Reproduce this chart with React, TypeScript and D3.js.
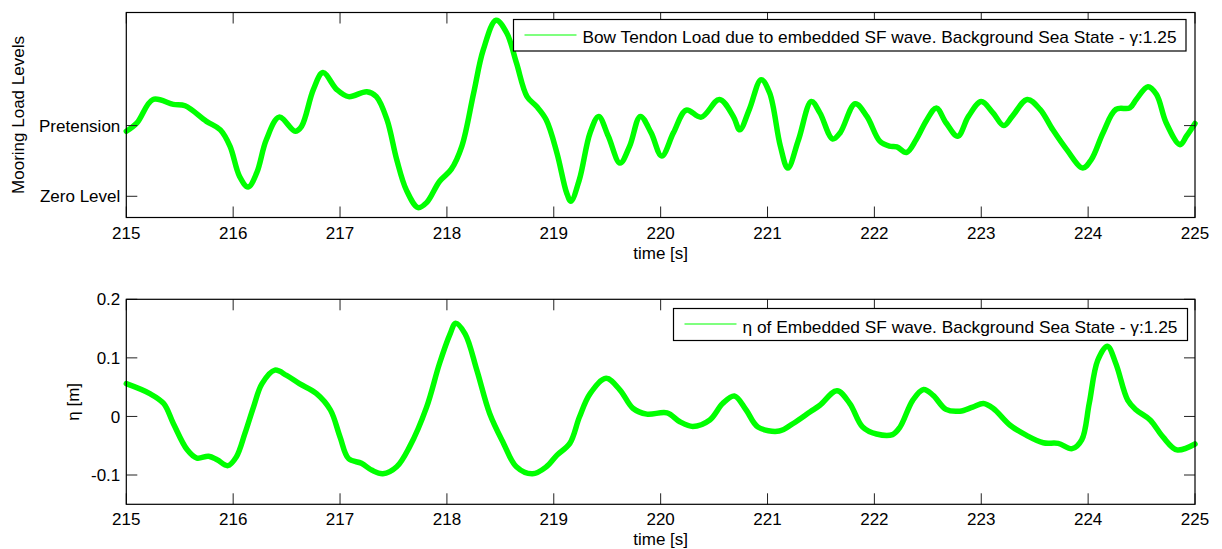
import React from 'react';
import * as d3 from 'd3';

const topTime = [215.0, 215.1, 215.25, 215.44, 215.55, 215.75, 215.88, 215.97, 216.06, 216.14, 216.22, 216.31, 216.43, 216.58, 216.64, 216.75, 216.84, 216.97, 217.08, 217.25, 217.34, 217.44, 217.53, 217.62, 217.73, 217.81, 217.93, 218.04, 218.14, 218.25, 218.34, 218.46, 218.56, 218.65, 218.75, 218.84, 218.93, 219.03, 219.12, 219.16, 219.24, 219.34, 219.42, 219.51, 219.62, 219.71, 219.81, 219.91, 220.01, 220.12, 220.24, 220.38, 220.55, 220.68, 220.74, 220.83, 220.94, 221.02, 221.12, 221.19, 221.29, 221.41, 221.49, 221.61, 221.68, 221.82, 221.93, 222.05, 222.14, 222.21, 222.3, 222.39, 222.49, 222.58, 222.67, 222.78, 222.88, 223.0, 223.11, 223.21, 223.29, 223.43, 223.55, 223.67, 223.8, 223.95, 224.03, 224.14, 224.26, 224.39, 224.45, 224.56, 224.64, 224.73, 224.86, 224.92, 225.0];
const topLoad = [0.92, 1.04, 1.37, 1.3, 1.28, 1.06, 0.94, 0.71, 0.28, 0.13, 0.33, 0.8, 1.12, 0.92, 0.99, 1.51, 1.75, 1.51, 1.41, 1.48, 1.41, 1.08, 0.52, 0.09, -0.16, -0.09, 0.21, 0.38, 0.71, 1.46, 2.07, 2.49, 2.31, 1.89, 1.41, 1.27, 1.08, 0.61, 0.05, -0.07, 0.24, 0.9, 1.13, 0.85, 0.47, 0.71, 1.13, 0.9, 0.57, 0.9, 1.22, 1.12, 1.37, 1.13, 0.94, 1.23, 1.65, 1.46, 0.71, 0.4, 0.8, 1.34, 1.18, 0.81, 0.9, 1.31, 1.13, 0.78, 0.71, 0.7, 0.62, 0.8, 1.08, 1.25, 1.04, 0.85, 1.13, 1.34, 1.18, 1.0, 1.13, 1.37, 1.23, 0.94, 0.66, 0.4, 0.52, 0.9, 1.23, 1.25, 1.37, 1.55, 1.44, 1.04, 0.73, 0.85, 1.03];

const botTime = [215.0, 215.22, 215.35, 215.44, 215.57, 215.66, 215.77, 215.85, 215.95, 216.03, 216.11, 216.19, 216.27, 216.39, 216.5, 216.62, 216.78, 216.91, 217.0, 217.08, 217.2, 217.3, 217.4, 217.53, 217.65, 217.81, 217.93, 218.03, 218.08, 218.17, 218.28, 218.4, 218.53, 218.65, 218.8, 218.93, 219.03, 219.15, 219.24, 219.34, 219.49, 219.62, 219.74, 219.87, 220.06, 220.18, 220.3, 220.46, 220.58, 220.69, 220.8, 220.91, 221.11, 221.24, 221.4, 221.49, 221.65, 221.77, 221.89, 222.02, 222.17, 222.24, 222.36, 222.46, 222.55, 222.67, 222.8, 222.92, 223.02, 223.11, 223.27, 223.42, 223.58, 223.72, 223.85, 223.94, 224.01, 224.09, 224.18, 224.26, 224.37, 224.45, 224.58, 224.7, 224.83, 225.0];
const botEta = [0.056, 0.039, 0.022, -0.012, -0.057, -0.071, -0.068, -0.074, -0.084, -0.069, -0.029, 0.016, 0.056, 0.079, 0.07, 0.056, 0.039, 0.011, -0.035, -0.072, -0.08, -0.092, -0.098, -0.086, -0.052, 0.016, 0.09, 0.141, 0.159, 0.141, 0.079, 0.005, -0.046, -0.086, -0.098, -0.086, -0.066, -0.046, -0.001, 0.039, 0.065, 0.045, 0.014, 0.004, 0.006, -0.009, -0.017, -0.006, 0.022, 0.035, 0.011, -0.018, -0.025, -0.012, 0.008, 0.019, 0.044, 0.022, -0.018, -0.03, -0.031, -0.018, 0.028, 0.046, 0.036, 0.012, 0.009, 0.016, 0.022, 0.014, -0.015, -0.032, -0.045, -0.046, -0.055, -0.04, 0.022, 0.096, 0.12, 0.09, 0.028, 0.011, -0.006, -0.035, -0.057, -0.047];

const xTicks = [215, 216, 217, 218, 219, 220, 221, 222, 223, 224, 225];
const topYTicks = [0, 1];
const topYTickLabels = ['Zero Level', 'Pretension'];
const botYTicks = [-0.1, 0, 0.1, 0.2];

const topLegend = 'Bow Tendon Load due to embedded SF wave. Background Sea State - γ:1.25';
const botLegend = 'η of Embedded SF wave. Background Sea State - γ:1.25';

const FONT = '"Liberation Sans", Arial, Helvetica, sans-serif';
const FS = 17;
const GREEN = '#00ff00';

const L = 126.3, R = 1195;

function Panel({ top, bottom, yDomain, yTicks, yLabels, time, values, yTitle, yTitleX, legend, legendBox, legendLineY, legendTextY, legendTextLen }: any) {
  const x = d3.scaleLinear().domain([215, 225]).range([L, R]);
  const y = d3.scaleLinear().domain(yDomain).range([bottom, top]);
  const line = d3.line<number>().x((_, i) => x(time[i])).y((d) => y(d)).curve(d3.curveCatmullRom.alpha(0.5));
  const tl = 11;
  return (
    <g>
      <rect x={L} y={top} width={R - L} height={bottom - top} fill="#fff" />
      <path d={line(values) || ''} fill="none" stroke={GREEN} strokeWidth={5.5} strokeLinejoin="round" strokeLinecap="round" />
      {xTicks.map((t) => (
        <g key={t}>
          <line x1={x(t)} x2={x(t)} y1={bottom} y2={bottom - tl} stroke="#222" strokeWidth={1} />
          <line x1={x(t)} x2={x(t)} y1={top} y2={top + tl} stroke="#222" strokeWidth={1} />
          <text x={x(t)} y={bottom + 21} textAnchor="middle" fontFamily={FONT} fontSize={FS} fill="#000">{t}</text>
        </g>
      ))}
      {yTicks.map((v: number, i: number) => (
        <g key={v}>
          <line x1={L} x2={L + tl} y1={y(v)} y2={y(v)} stroke="#222" strokeWidth={1} />
          <line x1={R} x2={R - tl} y1={y(v)} y2={y(v)} stroke="#222" strokeWidth={1} />
          <text x={L - 6} y={y(v)} dy="0.36em" textAnchor="end" fontFamily={FONT} fontSize={FS} fill="#000">{yLabels[i]}</text>
        </g>
      ))}
      <rect x={L} y={top} width={R - L} height={bottom - top} fill="none" stroke="#000" strokeWidth={1.2} />
      <text x={(L + R) / 2} y={bottom + 41} textAnchor="middle" fontFamily={FONT} fontSize={FS} fill="#000">time [s]</text>
      <text transform={`translate(${yTitleX},${(top + bottom) / 2}) rotate(-90)`} textAnchor="middle" fontFamily={FONT} fontSize={FS} fill="#000">{yTitle}</text>
      <rect x={legendBox[0]} y={legendBox[1]} width={legendBox[2] - legendBox[0]} height={legendBox[3] - legendBox[1]} fill="#fff" stroke="#000" strokeWidth={1.2} />
      <line x1={legendBox[0] + 11} x2={legendBox[0] + 63} y1={legendLineY} y2={legendLineY} stroke={GREEN} strokeWidth={1.2} />
      <text x={legendBox[0] + 69} y={legendTextY} fontFamily={FONT} fontSize={FS} fill="#000" textLength={legendTextLen} lengthAdjust="spacingAndGlyphs">{legend}</text>
    </g>
  );
}

export default function App() {
  return (
    <svg width={1222} height={549} style={{ position: 'absolute', left: 0, top: 0, background: '#fff' }}>
      <rect width={1222} height={549} fill="#fff" />
      <Panel top={12.5} bottom={217.5} yDomain={[-0.3, 2.6]} yTicks={topYTicks} yLabels={topYTickLabels}
        time={topTime} values={topLoad} yTitle="Mooring Load Levels" yTitleX={23.5}
        legend={topLegend} legendBox={[513.5, 19.5, 1186, 51]} legendLineY={35} legendTextY={42.5} legendTextLen={594} />
      <Panel top={299.3} bottom={504.3} yDomain={[-0.15, 0.2]} yTicks={botYTicks} yLabels={botYTicks.map((v) => d3.format('')(v).replace('−', '-'))}
        time={botTime} values={botEta} yTitle="η [m]" yTitleX={79}
        legend={botLegend} legendBox={[673.5, 308.5, 1187.5, 340.5]} legendLineY={324} legendTextY={332.5} legendTextLen={435} />
    </svg>
  );
}
